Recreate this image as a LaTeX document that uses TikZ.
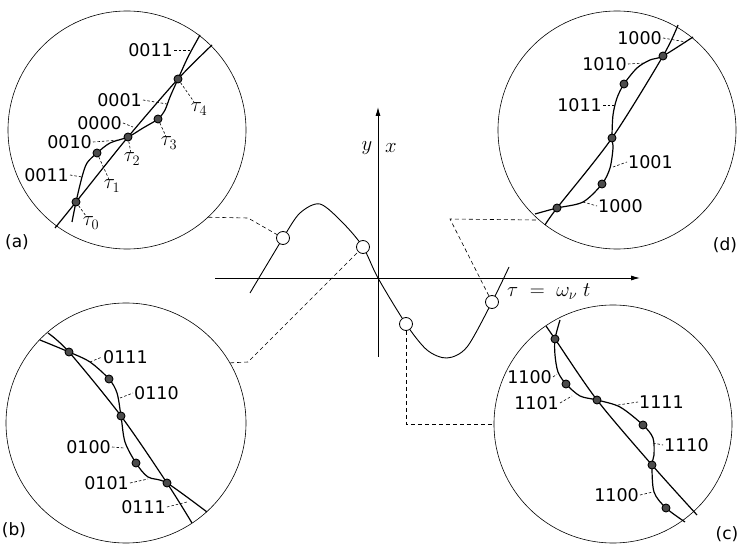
\documentclass[tikz,border=0pt]{standalone}
\usepackage{fontspec}
\usetikzlibrary{arrows.meta}
\newfontfamily\lblfont{DejaVu Sans}
\begin{document}
\begin{tikzpicture}[x=1pt,y=-1pt,
  bigc/.style={circle, draw, minimum size=238pt, inner sep=0pt, line width=0.6pt},
  dotc/.style={circle, draw, fill=black!70, minimum size=8pt, inner sep=0pt, line width=0.9pt},
  openc/.style={circle, draw, fill=white, minimum size=13pt, inner sep=0pt, line width=0.8pt},
  lab/.style={font=\lblfont\fontsize{17.5}{20}\selectfont, inner sep=1pt},
  tlab/.style={font=\fontsize{22}{24}\selectfont, inner sep=1pt},
  axlab/.style={font=\fontsize{20}{22}\selectfont, inner sep=1pt},
  plab/.style={font=\lblfont\fontsize{17}{19}\selectfont, inner sep=0pt},
  lead/.style={dash pattern=on 2.5pt off 2pt, line width=0.6pt},
  wave/.style={line width=1.2pt},
  conn/.style={dash pattern=on 4pt off 3pt, line width=0.6pt},
  axis/.style={line width=0.8pt, -{Latex[length=9pt,width=5pt]}}
]
\useasboundingbox (0,0) rectangle (737,545);

% ---------- big circles ----------
\node[bigc] (ca) at (127,130) {};
\node[bigc] (cd) at (617,130) {};
\node[bigc, minimum size=240pt] (cb) at (126,423) {};
\node[bigc] (cc) at (613,424) {};

\node[plab] (la) at (17,242) {(a)};
\node[plab] (ld) at (725,245) {(d)};
\node[plab] (lb) at (14,530) {(b)};
\node[plab] (lc) at (727,534) {(c)};

% ---------- central graph ----------
\coordinate (xs) at (215,278);
\coordinate (xe) at (640,278);
\coordinate (ys) at (378,357);
\coordinate (ye) at (378,107);
\draw[axis] (xs) -- (xe);
\draw[axis] (ys) -- (ye);
\node[axlab] (ly) at (367,148) {$y$};
\node[axlab] (lx) at (391,148) {$x$};
\node[axlab, anchor=west] (ltau) at (506,292) {$\tau\;=\;\omega_\nu\; t$};

\draw[line width=0.9pt] plot[smooth] coordinates {(250,293) (283,238) (300,213) (320,204) (343,223) (363,247) (378,278) (406,324) (427,350) (447,358) (467,347) (492,302) (509,267)};

\node[openc] (p1) at (283,238) {};
\node[openc] (p2) at (363,247) {};
\node[openc] (p3) at (406,324) {};
\node[openc] (p4) at (492,302) {};

\coordinate (ka) at (248,218);
\coordinate (kb) at (248,362);
\coordinate (kd) at (450,219);
\draw[conn] (ca.-47.7) -- (ka) -- (p1);
\draw[conn] (cb.30.3) -- (kb) -- (p2);
\draw[conn] (p3) |- (cc.west);
\draw[conn] (p4) -- (kd) -- (cd.-131.6);

% ---------- circle (a) ----------
\draw[wave] plot[smooth] coordinates {(55,228) (76,202) (128,137) (178,79) (212,45)};
\draw[wave] plot[smooth] coordinates {(72,222) (76,202) (82,177) (87,163) (97,153) (110,143) (128,137) (143,128) (158,119) (165,110) (170,97) (178,79) (188,57) (200,35)};
\node[dotc] (da0) at (76,202) {};
\node[dotc] (da1) at (97,153) {};
\node[dotc] (da2) at (128,137) {};
\node[dotc] (da3) at (158,119) {};
\node[dotc] (da4) at (178,79) {};
\node[tlab] (ta0) at (91,223) {$\tau_0$};
\node[tlab] (ta1) at (112,186) {$\tau_1$};
\node[tlab] (ta2) at (132,159) {$\tau_2$};
\node[tlab] (ta3) at (169,143) {$\tau_3$};
\node[tlab] (ta4) at (199,109) {$\tau_4$};
\draw[lead] (da0) -- (ta0);
\draw[lead] (da1) -- (ta1);
\draw[lead] (da2) -- (ta2);
\draw[lead] (da3) -- (ta3);
\draw[lead] (da4) -- (ta4);
\node[lab, anchor=east] (a1) at (174,50) {0011};
\node[lab, anchor=east] (a2) at (143,100) {0001};
\node[lab, anchor=east] (a3) at (123,123) {0000};
\node[lab, anchor=east] (a4) at (93,142) {0010};
\node[lab, anchor=east] (a5) at (70,175) {0011};
\coordinate (qa1) at (190,50);
\coordinate (qa2) at (167,104);
\coordinate (qa3) at (133,127);
\coordinate (qa4) at (120,140);
\coordinate (qa5) at (82,177);
\draw[lead] (a1.east) -- (qa1);
\draw[lead] (a2.east) -- (qa2);
\draw[lead] (a3.east) -- (qa3);
\draw[lead] (a4.east) -- (qa4);
\draw[lead] (a5.east) -- (qa5);

% ---------- circle (b) ----------
\draw[wave] plot[smooth] coordinates {(48,333) (69,352) (121,416) (167,483) (192,523)};
\draw[wave] plot[smooth] coordinates {(40,340) (69,352) (90,362) (109,379) (117,393) (121,416) (125,442) (136,463) (148,477) (167,483) (207,512)};
\node[dotc] (db0) at (69,352) {};
\node[dotc] (db1) at (109,379) {};
\node[dotc] (db2) at (121,416) {};
\node[dotc] (db3) at (136,463) {};
\node[dotc] (db4) at (167,483) {};
\node[lab, anchor=west] (b1) at (102,357) {0111};
\node[lab, anchor=west] (b2) at (133,393) {0110};
\node[lab, anchor=east] (b3) at (112,447) {0100};
\node[lab, anchor=east] (b4) at (130,483) {0101};
\node[lab, anchor=east] (b5) at (167,507) {0111};
\coordinate (qb1) at (90,362);
\coordinate (qb2) at (120,398);
\coordinate (qb3) at (124,448);
\coordinate (qb4) at (148,479);
\coordinate (qb5) at (187,502);
\draw[lead] (qb1) -- (b1.west);
\draw[lead] (qb2) -- (b2.west);
\draw[lead] (b3.east) -- (qb3);
\draw[lead] (b4.east) -- (qb4);
\draw[lead] (b5.east) -- (qb5);

% ---------- circle (c) ----------
\draw[wave] plot[smooth] coordinates {(546,326) (555,339) (597,400) (652,465) (697,515)};
\draw[wave] plot[smooth] coordinates {(560,320) (555,339) (555,355) (558,372) (566,384) (580,396) (597,400) (620,407) (643,425) (653,438) (654,455) (652,465) (654,492) (666,508) (685,522)};
\node[dotc] (dc0) at (555,339) {};
\node[dotc] (dc1) at (566,384) {};
\node[dotc] (dc2) at (597,400) {};
\node[dotc] (dc3) at (643,425) {};
\node[dotc] (dc4) at (652,465) {};
\node[dotc] (dc5) at (666,508) {};
\node[lab, anchor=east] (c1) at (553,377) {1100};
\node[lab, anchor=east] (c2) at (560,403) {1101};
\node[lab, anchor=west] (c3) at (638,402) {1111};
\node[lab, anchor=west] (c4) at (663,445) {1110};
\node[lab, anchor=east] (c5) at (640,495) {1100};
\coordinate (qc1) at (557,374);
\coordinate (qc2) at (572,396);
\coordinate (qc3) at (618,405);
\coordinate (qc4) at (653,443);
\coordinate (qc5) at (653,492);
\draw[lead] (c1.east) -- (qc1);
\draw[lead] (c2.east) -- (qc2);
\draw[lead] (qc3) -- (c3.west);
\draw[lead] (qc4) -- (c4.west);
\draw[lead] (c5.east) -- (qc5);

% ---------- circle (d) ----------
\draw[wave] plot[smooth] coordinates {(545,225) (557,208) (612,138) (663,56) (678,25)};
\draw[wave] plot[smooth] coordinates {(535,214) (557,208) (583,202) (602,184) (610,168) (613,148) (612,138) (613,115) (617,98) (624,84) (637,68) (650,60) (663,56) (693,37)};
\node[dotc] (dd0) at (557,208) {};
\node[dotc] (dd1) at (602,184) {};
\node[dotc] (dd2) at (612,138) {};
\node[dotc] (dd3) at (624,84) {};
\node[dotc] (dd4) at (663,56) {};
\node[lab, anchor=east] (d1) at (663,38) {1000};
\node[lab, anchor=east] (d2) at (628,64) {1010};
\node[lab, anchor=east] (d3) at (603,105) {1011};
\node[lab, anchor=west] (d4) at (627,162) {1001};
\node[lab, anchor=west] (d5) at (597,206) {1000};
\coordinate (qd1) at (686,42);
\coordinate (qd2) at (645,63);
\coordinate (qd3) at (614,105);
\coordinate (qd4) at (613,167);
\coordinate (qd5) at (583,202);
\draw[lead] (d1.east) -- (qd1);
\draw[lead] (d2.east) -- (qd2);
\draw[lead] (d3.east) -- (qd3);
\draw[lead] (qd4) -- (d4.west);
\draw[lead] (qd5) -- (d5.west);
\end{tikzpicture}
\end{document}
